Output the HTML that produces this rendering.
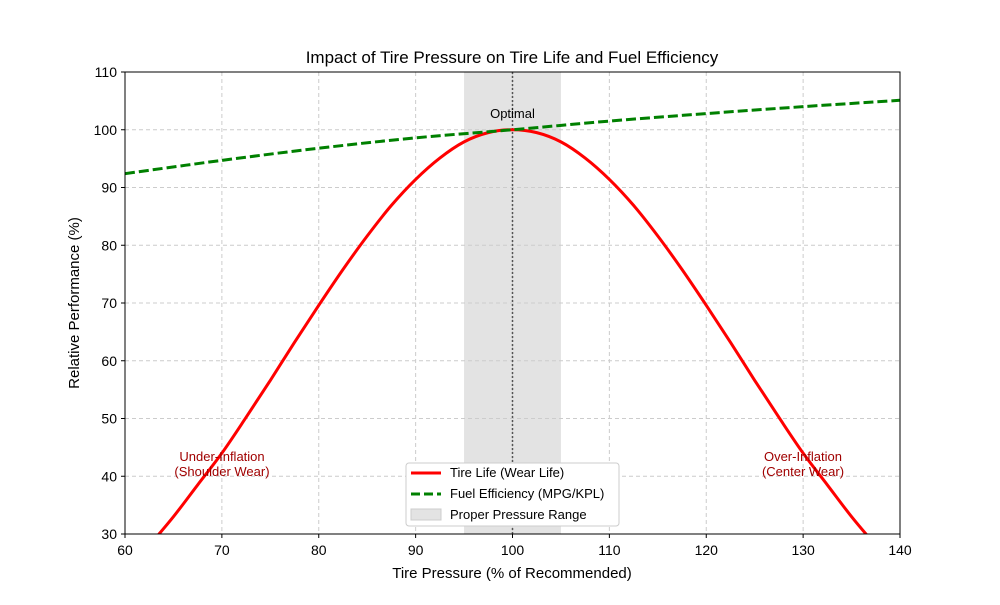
<!DOCTYPE html>
<html><head><meta charset="utf-8"><style>
body{margin:0;background:#fff;font-family:"Liberation Sans",sans-serif}
svg text{font-family:"Liberation Sans",sans-serif}
</style></head><body>
<svg id="c" width="1000" height="600"></svg>
<script>
const xTicks=[60,70,80,90,100,110,120,130,140];
const yTicks=[30,40,50,60,70,80,90,100,110];
const lifeX=[60,62.5,65,67.5,70,72.5,75,77.5,80,82.5,85,87.5,90,92.5,95,97.5,100,102.5,105,107.5,110,112.5,115,117.5,120,122.5,125,127.5,130,132.5,135,137.5,140];
const lifeY=[23.0,28.0,33.0,38.5,44.0,50.2,56.6,63.2,69.6,75.8,81.6,86.9,91.4,95.1,97.9,99.5,100,99.5,97.9,95.1,91.4,86.9,81.6,75.8,69.6,63.2,56.6,50.2,44.0,38.5,33.0,28.0,23.0];
const fuelX=[60,70,80,90,100,110,120,130,140];
const fuelY=[92.4,94.7,96.8,98.6,100,101.5,102.8,104.0,105.1];
const range=[95,105];
const L=125,R=900,T=72,B=534,NS="http://www.w3.org/2000/svg";
const sx=v=>L+(v-60)/80*(R-L), sy=v=>B-(v-30)/80*(B-T);
const svg=document.getElementById('c');
function el(t,a,p){const e=document.createElementNS(NS,t);for(const k in a)e.setAttribute(k,a[k]);(p||svg).appendChild(e);return e;}
function smooth(xs,ys){const P=xs.map((x,i)=>[sx(x),sy(ys[i])]);let d='M'+P[0][0]+','+P[0][1];
for(let i=0;i<P.length-1;i++){const p0=P[Math.max(0,i-1)],p1=P[i],p2=P[i+1],p3=P[Math.min(P.length-1,i+2)];
d+=' C'+(p1[0]+(p2[0]-p0[0])/6)+','+(p1[1]+(p2[1]-p0[1])/6)+' '+(p2[0]-(p3[0]-p1[0])/6)+','+(p2[1]-(p3[1]-p1[1])/6)+' '+p2[0]+','+p2[1];}return d;}
const defs=el('defs',{});const cp=el('clipPath',{id:'cl'},defs);el('rect',{x:L,y:T,width:R-L,height:B-T},cp);
let r=el('rect',{x:sx(range[0]),y:T,width:sx(range[1])-sx(range[0]),height:B-T,fill:'#e3e3e3'});


xTicks.forEach(v=>{let g=el('line',{x1:sx(v),x2:sx(v),y1:T,y2:B,stroke:'#ccc','stroke-dasharray':'4,3'});
let t=el('text',{x:sx(v),y:B+21,'text-anchor':'middle','font-size':14});t.textContent=v;
el('line',{x1:sx(v),x2:sx(v),y1:B,y2:B+4,stroke:'#000'});});
yTicks.forEach(v=>{let g=el('line',{x1:L,x2:R,y1:sy(v),y2:sy(v),stroke:'#ccc','stroke-dasharray':'4,3'});
let t=el('text',{x:L-8,y:sy(v)+5,'text-anchor':'end','font-size':14});t.textContent=v;
el('line',{x1:L-4,x2:L,y1:sy(v),y2:sy(v),stroke:'#000'});});
let vl=el('line',{x1:sx(100),x2:sx(100),y1:T,y2:B,stroke:'#555','stroke-dasharray':'2,2','stroke-width':1.5});

let p=el('path',{d:smooth(lifeX,lifeY),fill:'none',stroke:'#f00','stroke-width':3,'clip-path':'url(#cl)'});

let f=el('path',{d:smooth(fuelX,fuelY),fill:'none',stroke:'#008000','stroke-width':3,'stroke-dasharray':'10,4','clip-path':'url(#cl)'});

el('rect',{x:L,y:T,width:R-L,height:B-T,fill:'none',stroke:'#000'});
function txt(x,y,s,a,name){let t=el('text',Object.assign({x:x,y:y,'text-anchor':'middle','font-size':13},a));t.textContent=s;return t;}
txt(sx(100),118,'Optimal',{},'optimal-label');
txt(222,461,'Under-Inflation',{fill:'#a00000'},'under-inflation-label');
txt(222,476,'(Shoulder Wear)',{fill:'#a00000'},'under-inflation-label-2');
txt(803,461,'Over-Inflation',{fill:'#a00000'},'over-inflation-label');
txt(803,476,'(Center Wear)',{fill:'#a00000'},'over-inflation-label-2');
txt(512,63,'Impact of Tire Pressure on Tire Life and Fuel Efficiency',{'font-size':17},'chart-title');
txt(512,578,'Tire Pressure (% of Recommended)',{'font-size':15},'x-axis-title');
txt(0,0,'Relative Performance (%)',{'font-size':15,transform:'translate(79,303) rotate(-90)'},'y-axis-title');
const lg=el('g',{});
el('rect',{x:406,y:463,width:213,height:63,fill:'#fff',stroke:'#ccc',rx:3},lg);
el('line',{x1:411,x2:441,y1:473,y2:473,stroke:'#f00','stroke-width':3},lg);
el('line',{x1:411,x2:441,y1:494,y2:494,stroke:'#008000','stroke-width':3,'stroke-dasharray':'9,4'},lg);
el('rect',{x:411,y:509,width:30,height:11,fill:'#e3e3e3',stroke:'#ccc'},lg);
[['Tire Life (Wear Life)',477],['Fuel Efficiency (MPG/KPL)',498],['Proper Pressure Range',519]].forEach(a=>{let t=el('text',{x:450,y:a[1],'font-size':13},lg);t.textContent=a[0];});
</script></body></html>
